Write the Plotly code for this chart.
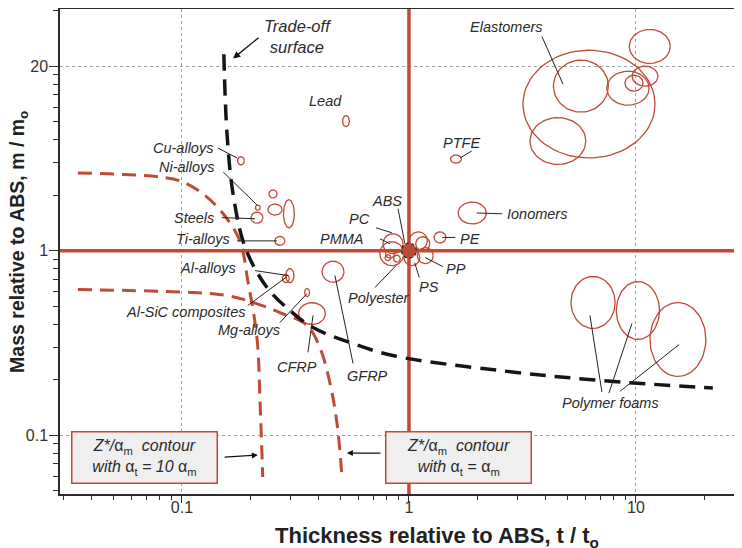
import numpy as np
import plotly.graph_objects as go

RED = '#bf4a36'
INK = '#2b2b2b'

# material bubbles: centre (t/t0, m/m0) and half-size in decades
bubble_t = [6.21, 5.72, 4.53, 9.22, 9.80, 10.96, 11.5,       # elastomers
            6.47, 10.2, 15.3,                                 # polymer foams
            0.528, 0.182, 0.216, 0.214, 0.252, 0.257, 0.296,  # lead, Cu, Ni, steels
            0.270, 0.299, 0.287, 0.356, 0.374, 0.463,         # Ti, Al, Al-SiC, Mg, CFRP, GFRP
            1.61, 1.90, 1.37,                                 # PTFE, ionomers, PE
            0.851, 0.841, 0.825, 0.885, 0.808, 1.10, 1.15, 1.18, 1.03]
bubble_m = [6.23, 7.80, 3.93, 7.60, 8.09, 8.83, 12.8,
            0.524, 0.474, 0.330,
            5.04, 3.07, 1.71, 1.51, 2.03, 1.67, 1.585,
            1.13, 0.733, 0.706, 0.593, 0.456, 0.769,
            3.14, 1.60, 1.18,
            1.09, 0.963, 0.963, 0.905, 0.917, 1.13, 1.09, 0.94, 0.917]
bubble_wt = [0.291, 0.121, 0.123, 0.093, 0.040, 0.057, 0.090,
             0.097, 0.095, 0.123,
             0.015, 0.015, 0.011, 0.026, 0.018, 0.031, 0.024,
             0.022, 0.018, 0.015, 0.011, 0.059, 0.048,
             0.024, 0.062, 0.026,
             0.044, 0.053, 0.020, 0.015, 0.013, 0.040, 0.031, 0.035, 0.035]
bubble_wm = [0.292, 0.141, 0.127, 0.092, 0.043, 0.054, 0.092,
             0.141, 0.157, 0.200,
             0.030, 0.022, 0.014, 0.030, 0.022, 0.030, 0.076,
             0.024, 0.038, 0.022, 0.022, 0.059, 0.057,
             0.022, 0.059, 0.030,
             0.054, 0.065, 0.024, 0.019, 0.016, 0.049, 0.038, 0.043, 0.043]

# reference material ABS
abs_t, abs_m, abs_wt, abs_wm = 1.0, 1.0, 0.033, 0.041

# trade-off surface
tradeoff_t = [0.153, 0.158, 0.168, 0.19, 0.237, 0.299, 0.378, 0.55, 0.85, 2.52, 6.94, 21.8]
tradeoff_m = [11.6, 4.29, 2.03, 1.04, 0.631, 0.474, 0.383, 0.318, 0.27, 0.224, 0.198, 0.18]

# Z*/alpha_m contours
contour10_t = [0.0348, 0.080, 0.098, 0.124, 0.152, 0.180, 0.195, 0.214, 0.221, 0.227]
contour10_m = [2.64, 2.51, 2.39, 2.03, 1.585, 1.13, 0.689, 0.339, 0.149, 0.0593]
contour1_t = [0.0348, 0.112, 0.158, 0.206, 0.27, 0.356, 0.405, 0.449, 0.482, 0.507]
contour1_m = [0.616, 0.593, 0.571, 0.524, 0.462, 0.393, 0.299, 0.191, 0.116, 0.0593]

# labels
label_text = ['Elastomers', 'Lead', 'Cu-alloys', 'Ni-alloys', 'Steels', 'Ti-alloys', 'Al-alloys',
              'Al-SiC composites', 'Mg-alloys', 'CFRP', 'GFRP', 'Polyester', 'PMMA', 'PC', 'ABS',
              'PTFE', 'Ionomers', 'PE', 'PP', 'PS', 'Polymer foams']
label_t = [2.70, 0.427, 0.140, 0.143, 0.141, 0.166, 0.177, 0.193, 0.276, 0.321, 0.660, 0.738,
           0.647, 0.687, 0.80, 1.71, 2.65, 1.64, 1.43, 1.22, 7.76]
label_m = [16.4, 6.47, 3.60, 2.84, 1.51, 1.16, 0.809, 0.468, 0.370, 0.233, 0.208, 0.557,
           1.16, 1.49, 1.86, 3.84, 1.585, 1.16, 0.80, 0.639, 0.149]
label_anchor = ['center', 'center', 'right', 'right', 'right', 'right', 'right', 'right', 'right',
                'center', 'center', 'center', 'right', 'right', 'center', 'center', 'left', 'left',
                'left', 'center', 'center']

# leader lines (from label to bubble)
leader_t0 = [3.85, 0.144, 0.152, 0.150, 0.175, 0.210, 0.195, 0.270, 0.359, 0.567, 0.708, 0.745,
             0.716, 0.895, 1.68, 1.40, 1.18, 1.06, 1.99, 7.08, 7.60, 8.51]
leader_m0 = [14.5, 3.60, 2.67, 1.51, 1.13, 0.78, 0.504, 0.408, 0.281, 0.245, 0.631, 1.16,
             1.33, 1.69, 3.18, 1.18, 0.917, 0.861, 1.60, 0.171, 0.169, 0.173]
leader_t1 = [4.77, 0.175, 0.214, 0.210, 0.262, 0.293, 0.290, 0.356, 0.378, 0.472, 0.877, 0.825,
             0.841, 0.960, 1.89, 1.60, 1.41, 1.11, 2.57, 6.27, 9.60, 15.5]
leader_m1 = [8.0, 3.18, 1.77, 1.49, 1.13, 0.733, 0.723, 0.586, 0.445, 0.733, 0.830, 1.09,
             1.25, 1.09, 3.47, 1.18, 0.82, 0.715, 1.585, 0.445, 0.403, 0.310]

lg = np.log10


def ellipse(t, m, wt, wm, n=72):
    th = np.linspace(0, 2 * np.pi, n)
    return list(t * 10 ** (wt * np.cos(th))), list(m * 10 ** (wm * np.sin(th)))


fig = go.Figure()

# red reference cross through ABS
fig.add_trace(go.Scatter(x=[0.01, 100, None, 1, 1], y=[1, 1, None, 0.01, 100], mode='lines',
                         line=dict(color=RED, width=3.5), hoverinfo='skip'))

# contours
for ct, cm in [(contour10_t, contour10_m), (contour1_t, contour1_m)]:
    fig.add_trace(go.Scatter(x=ct, y=cm, mode='lines', line_shape='spline',
                             line=dict(color=RED, width=3, dash='14px,8px'), hoverinfo='skip'))

# bubbles
xs, ys = [], []
for t, m, wt, wm in zip(bubble_t, bubble_m, bubble_wt, bubble_wm):
    ex, ey = ellipse(t, m, wt, wm)
    xs += ex + [None]
    ys += ey + [None]
fig.add_trace(go.Scatter(x=xs, y=ys, mode='lines', line=dict(color=RED, width=1.3), hoverinfo='skip'))

ex, ey = ellipse(abs_t, abs_m, abs_wt, abs_wm)
fig.add_trace(go.Scatter(x=ex, y=ey, mode='lines', fill='toself', fillcolor=RED,
                         line=dict(color='#222', width=1.2, dash='dot'), hoverinfo='skip'))

# trade-off surface
fig.add_trace(go.Scatter(x=tradeoff_t, y=tradeoff_m, mode='lines', line_shape='spline',
                         line=dict(color='#151515', width=3.5, dash='16px,9px'), hoverinfo='skip'))

# leaders
lx, ly = [], []
for a, b, c, d in zip(leader_t0, leader_m0, leader_t1, leader_m1):
    lx += [a, c, None]
    ly += [b, d, None]
fig.add_trace(go.Scatter(x=lx, y=ly, mode='lines', line=dict(color='#222', width=1), hoverinfo='skip'))

lab_font = dict(family='Liberation Sans, Arial', size=14.5, color=INK)
for txt, t, m, anc in zip(label_text, label_t, label_m, label_anchor):
    fig.add_annotation(x=lg(t), y=lg(m), text='<i>' + txt + '</i>', showarrow=False,
                       xanchor=anc, yanchor='middle', font=lab_font)

# trade-off label and arrow
fig.add_annotation(x=lg(0.326), y=lg(14.5), text='<i>Trade-off<br>surface</i>', showarrow=False,
                   font=dict(family='Liberation Sans, Arial', size=16.5, color=INK))
fig.add_annotation(x=lg(0.168), y=lg(11.0), ax=lg(0.221), ay=lg(14.5), axref='x', ayref='y',
                   text='', showarrow=True, arrowhead=2, arrowsize=1.1, arrowwidth=1.3, arrowcolor='#111')

# contour boxes
box_font = dict(family='Liberation Sans, Arial', size=16, color=INK)
fig.add_annotation(x=lg(0.0684), y=lg(0.0756), showarrow=False, width=140, height=46,
                   text='<i>Z*/</i>α<sub>m</sub>&nbsp;&nbsp;<i>contour</i><br><i>with </i>α<sub>t</sub><i> = 10 </i>α<sub>m</sub>',
                   bgcolor='#efefef', bordercolor=RED, borderwidth=1.5, borderpad=2, font=box_font)
fig.add_annotation(x=lg(1.66), y=lg(0.0756), showarrow=False, width=140, height=46,
                   text='<i>Z*/</i>α<sub>m</sub>&nbsp;&nbsp;<i>contour</i><br><i>with </i>α<sub>t</sub><i> = </i>α<sub>m</sub>',
                   bgcolor='#efefef', bordercolor=RED, borderwidth=1.5, borderpad=2, font=box_font)
fig.add_annotation(x=lg(0.216), y=lg(0.078), ax=lg(0.152), ay=lg(0.076), axref='x', ayref='y',
                   text='', showarrow=True, arrowhead=2, arrowsize=1, arrowwidth=1.2, arrowcolor='#111')
fig.add_annotation(x=lg(0.533), y=lg(0.080), ax=lg(0.760), ay=lg(0.080), axref='x', ayref='y',
                   text='', showarrow=True, arrowhead=2, arrowsize=1, arrowwidth=1.2, arrowcolor='#111')

# axis titles
fig.add_annotation(xref='paper', yref='paper', x=0.553, y=-0.089, yanchor='middle',
                   text='<b>Thickness relative to ABS, t / t<sub>o</sub></b>', showarrow=False,
                   font=dict(family='Liberation Sans, Arial', size=22, color='#222'))
fig.add_annotation(xref='paper', yref='paper', x=-0.060, y=0.52, textangle=-90, xanchor='center',
                   text='<b>Mass relative to ABS, m / m<sub>o</sub></b>', showarrow=False,
                   font=dict(family='Liberation Sans, Arial', size=19.5, color='#222'))

x_minor = [0.03, 0.04, 0.05, 0.06, 0.07, 0.08, 0.09, 0.2, 0.3, 0.4, 0.5, 0.6, 0.7, 0.8, 0.9,
           2, 3, 4, 5, 6, 7, 8, 9, 20]
y_minor = [0.05, 0.06, 0.07, 0.08, 0.09, 0.2, 0.3, 0.4, 0.5, 0.6, 0.7, 0.8, 0.9,
           2, 3, 4, 5, 6, 7, 8, 9, 20]

axis_common = dict(type='log', ticks='outside', tickwidth=1.2, tickcolor=INK,
                   showline=True, linecolor=INK, linewidth=1.5, showgrid=True, gridcolor='#a0a0a0',
                   griddash='dot', gridwidth=1, zeroline=False, automargin=False,
                   tickfont=dict(family='Liberation Sans, Arial', size=16, color='#333'))
fig.update_xaxes(range=[-1.537, 1.467], tickvals=[0.1, 1, 10], ticktext=['0.1', '1', '10'], mirror=True,
                 ticklen=7, ticklabelstandoff=-9,
                 minor=dict(tickvals=x_minor, ticks='outside', ticklen=4, tickcolor=INK, showgrid=False),
                 **axis_common)
fig.update_yaxes(range=[-1.319, 1.310], tickvals=[0.1, 1, 10], ticktext=['0.1', '1', '20'],
                 ticklen=9, ticklabelstandoff=-2,
                 minor=dict(tickvals=y_minor, ticks='outside', ticklen=5, tickcolor=INK, showgrid=False),
                 **axis_common)

fig.update_layout(width=734, height=540, margin=dict(l=52, r=0, t=1, b=54),
                  plot_bgcolor='white', paper_bgcolor='white', showlegend=False)

fig.write_html("out.html")
